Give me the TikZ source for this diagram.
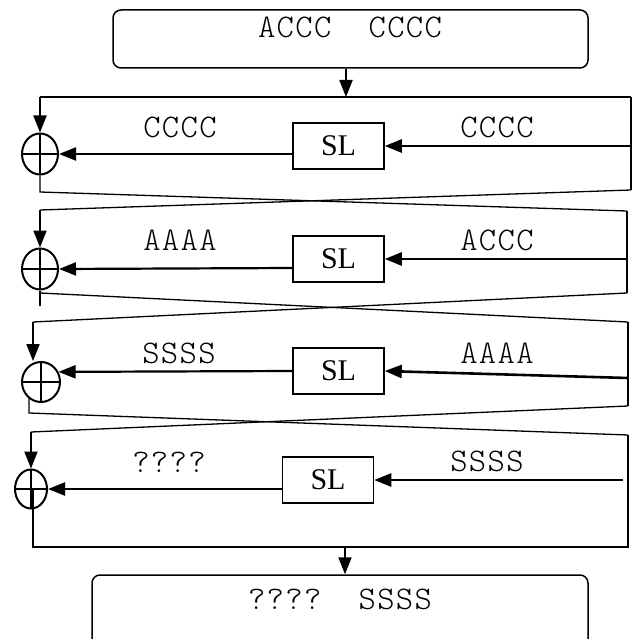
\documentclass[tikz,border=0pt]{standalone}
\usepackage{fontspec}
\newfontfamily\codefont{lmmonolt10-regular}[Extension=.otf, LetterSpace=4]
\newfontfamily\boxfont{Liberation Serif}
\usetikzlibrary{arrows.meta,shapes.geometric}

\tikzset{
  wire/.style={line width=1.3pt, line join=miter},
  sig/.style={line width=2.2pt, -{Triangle[length=17pt,width=13pt]}},
  insig/.style={line width=2.6pt, -{Triangle[length=17pt,width=13pt]}},
  slbox/.style={draw, line width=1.5pt, minimum width=91pt, minimum height=46pt,
    inner sep=0pt, font=\boxfont\fontsize{30}{30}\selectfont},
  xorop/.style={ellipse, draw, line width=2pt, inner sep=0pt,
    minimum width=36pt, minimum height=41pt,
    path picture={\draw[line width=1.3pt]
      (path picture bounding box.north) -- (path picture bounding box.south)
      (path picture bounding box.west) -- (path picture bounding box.east);}},
  lbl/.style={inner sep=0pt, font=\codefont\fontsize{33}{33}\selectfont},
  iobox/.style={draw, line width=1.5pt, rounded corners=8pt, inner sep=0pt}
}

\begin{document}
\begin{tikzpicture}[x=1pt, y=-1pt]
\useasboundingbox (0,0) rectangle (632,639);

% input and output blocks
\node[iobox, minimum width=475pt, minimum height=58pt] (src) at (350.5,39) {};
\node[lbl] (srctext) at (350,27) {ACCC\ \ CCCC};
\node[iobox, minimum width=496pt, minimum height=80pt] (dst) at (340,615) {};
\node[lbl] (dsttext) at (340,599) {????\ \ SSSS};

% round functions
\node[slbox] (sl1) at (338.5,146) {SL};
\node[slbox] (sl2) at (338.5,259) {SL};
\node[slbox] (sl3) at (338.5,371) {SL};
\node[slbox] (sl4) at (328,480) {SL};

% xor junctions
\node[xorop] (xor1) at (40,154) {};
\node[xorop] (xor2) at (40,269) {};
\node[xorop, minimum width=38pt, minimum height=40pt] (xor3) at (41,382) {};
\node[xorop, minimum width=32pt, minimum height=39pt] (xor4) at (31,489) {};

% half-block labels
\node[lbl] (l1a) at (180,127) {CCCC};
\node[lbl] (r1a) at (497,127) {CCCC};
\node[lbl] (l2a) at (180,240) {AAAA};
\node[lbl] (r2a) at (497,240) {ACCC};
\node[lbl] (l3a) at (179,353) {SSSS};
\node[lbl] (r3a) at (497,353) {AAAA};
\node[lbl] (l4a) at (169,462) {????};
\node[lbl] (r4a) at (487,461) {SSSS};

% frame corners
\coordinate (top1) at (346,97);
\coordinate (c1tl) at (40,97);
\coordinate (c1tr) at (631,97);
\coordinate (c1br) at (631,190);
\coordinate (in1)  at (631,146);
\coordinate (x1o)  at (40,192);

\coordinate (c2tl) at (40,210);
\coordinate (c2tr) at (627,211);
\coordinate (c2br) at (627,293);
\coordinate (in2)  at (627,259);
\coordinate (x2o)  at (40,306);
\coordinate (x2s)  at (40,293);

\coordinate (c3tl) at (33,322);
\coordinate (c3tr) at (628,322);
\coordinate (c3br) at (628,406);
\coordinate (in3)  at (628,378);
\coordinate (x3o)  at (29,413);

\coordinate (c4tl) at (31,432);
\coordinate (c4tr) at (628,435);
\coordinate (c4br) at (628,547);
\coordinate (c4bl) at (33,547);
\coordinate (x4c)  at (33,489);
\coordinate (in4)  at (623,480);
\coordinate (bot4) at (345,547);

% input into round 1
\draw[sig, line width=2pt] (src.south -| top1) -- (top1);

% round 1
\draw[wire] (c1tr) -- (c1tl);
\draw[wire] (c1tr) -- (c1br);
\draw[sig, line width=2pt] (c1tl) -- (xor1.north);
\draw[insig] (in1) -- (sl1.east);
\draw[sig] ([yshift=-8pt]sl1.west) -- (xor1.east);
\draw[wire] (xor1.south) -- (x1o) -- (c2tr);
\draw[wire] (c1br) -- (c2tl);

% round 2
\draw[sig, line width=2pt] (c2tl) -- (xor2.north);
\draw[wire] (c2tr) -- (c2br);
\draw[insig] (in2) -- (sl2.east);
\draw[sig] ([yshift=-9pt]sl2.west) -- (xor2.east);
\draw[wire] (xor2.south) -- (x2o);
\draw[wire] (x2s) -- (c3tr);
\draw[wire] (c2br) -- (c3tl);

% round 3
\draw[sig, line width=2pt] (c3tl) -- (c3tl |- xor3.north);
\draw[wire] (c3tr) -- (c3br);
\draw[insig] (in3) -- (sl3.east);
\draw[sig] (sl3.west) -- (xor3.30);
\draw[wire] (x3o |- xor3.-128) -- (x3o) -- (c4tr);
\draw[wire] (c3br) -- (c4tl);

% round 4
\draw[sig, line width=2pt] (c4tl) -- (c4tl |- xor4.north);
\draw[insig] (in4) -- (sl4.east);
\draw[sig] ([yshift=-9pt]sl4.west) -- (xor4.east);
\draw[wire] (x4c) -- (c4bl) -- (c4br) -- (c4tr);

% output
\draw[sig, line width=2pt] (bot4) -- (bot4 |- dst.north);
\end{tikzpicture}
\end{document}
